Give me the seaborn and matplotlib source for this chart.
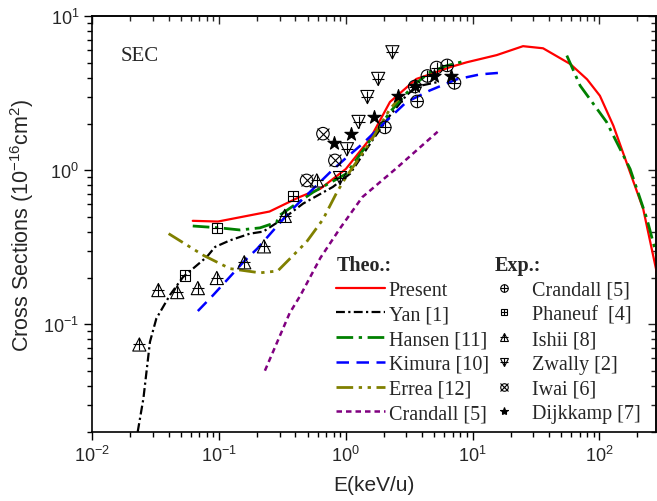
import matplotlib
matplotlib.use("Agg")
import matplotlib.pyplot as plt
import seaborn as sns
from matplotlib.lines import Line2D
from matplotlib.ticker import NullFormatter

# ---- theory curves ----
present_x = [0.062, 0.098, 0.25, 0.43, 0.63, 1.0, 1.55, 2.23, 3.6, 4.5, 6.6, 9.0, 15.5, 25, 36, 59, 80, 101, 129, 222, 290]
present_y = [0.47, 0.465, 0.54, 0.67, 0.76, 1.02, 1.6, 2.78, 3.92, 4.17, 4.67, 5.03, 5.6, 6.4, 6.2, 4.9, 3.9, 3.05, 1.95, 0.56, 0.2]

yan_x = [0.0228, 0.0253, 0.0285, 0.032, 0.041, 0.052, 0.08, 0.093, 0.122, 0.175, 0.223, 0.32, 0.46, 0.79, 1.08, 1.65, 2.23, 3.0, 3.6, 5.3]
yan_y = [0.02, 0.033, 0.077, 0.109, 0.155, 0.203, 0.274, 0.318, 0.351, 0.388, 0.40, 0.485, 0.608, 0.78, 0.95, 1.6, 2.27, 3.06, 3.5, 3.74]

hansen_lo_x = [0.062, 0.101, 0.146, 0.21, 0.284, 0.30, 0.55, 1.01, 1.65, 2.23, 3.4, 4.6, 6.2, 9.0]
hansen_lo_y = [0.435, 0.423, 0.41, 0.423, 0.46, 0.51, 0.72, 0.95, 1.68, 2.39, 3.55, 4.33, 4.77, 5.16]
hansen_hi_x = [55.4, 70.5, 114, 175, 237, 290]
hansen_hi_y = [5.56, 3.55, 2.06, 1.02, 0.486, 0.26]

kimura_x = [0.068, 0.09, 0.155, 0.2, 0.36, 0.5, 0.75, 1.0, 1.37, 2.1, 3.0, 4.6, 7.5, 11.5, 16.5]
kimura_y = [0.122, 0.155, 0.253, 0.31, 0.537, 0.7, 0.97, 1.2, 1.5, 2.1, 2.77, 3.3, 3.9, 4.2, 4.3]

errea_x = [0.04, 0.075, 0.122, 0.21, 0.29, 0.49, 0.66, 0.85, 1.0, 1.56, 2.23, 2.7]
errea_y = [0.388, 0.281, 0.23, 0.216, 0.222, 0.343, 0.48, 0.72, 0.9, 1.53, 2.5, 3.0]

crandall_th_x = [0.23, 0.36, 0.44, 0.63, 0.9, 1.35, 2.5, 5.3]
crandall_th_y = [0.05, 0.118, 0.155, 0.27, 0.42, 0.67, 1.03, 1.78]

# ---- experiments ----
crandall_ex_x = [2.03, 3.5, 3.65, 4.4, 5.2, 6.3, 7.2]
crandall_ex_y = [1.9, 3.5, 2.8, 4.1, 4.65, 4.8, 3.7]

phaneuf_x = [0.054, 0.096, 0.385]
phaneuf_y = [0.208, 0.423, 0.683]

ishii_x = [0.0235, 0.0332, 0.0468, 0.068, 0.096, 0.158, 0.226, 0.33, 0.59]
ishii_y = [0.074, 0.167, 0.162, 0.172, 0.20, 0.253, 0.321, 0.506, 0.86]

zwally_x = [0.9, 1.02, 1.26, 1.48, 1.8, 2.33]
zwally_y = [0.89, 1.37, 2.06, 2.99, 3.92, 5.84]

iwai_x = [0.49, 0.66, 0.82]
iwai_y = [0.86, 1.73, 1.16]

dijk_x = [0.8, 1.09, 1.67, 2.6, 3.5, 5.0, 6.8]
dijk_y = [1.5, 1.73, 2.22, 3.03, 3.55, 4.12, 4.12]

sns.set_theme(style="ticks")
plt.rcParams["font.family"] = ["Liberation Sans", "DejaVu Sans"]
plt.rcParams["mathtext.fontset"] = "custom"
plt.rcParams["mathtext.rm"] = "Liberation Sans"
plt.rcParams["axes.linewidth"] = 1.2

fig = plt.figure(figsize=(6.57, 5.02), dpi=100)
ax = fig.add_axes([0.1405, 0.1375, 0.858, 0.828])
ax.set_xscale("log")
ax.set_yscale("log")

theo = [
    (present_x, present_y, "Present", "#ff0000", "-", None, 1.6),
    (yan_x, yan_y, "Yan [1]", "black", "-", (4, 1.5, 1, 1.5), 1.6),
    (hansen_lo_x, hansen_lo_y, "Hansen [11]", "#008000", "-", (6, 2, 1.2, 2), 2.0),
    (kimura_x, kimura_y, "Kimura [10]", "#0000ff", "-", (5, 3), 1.8),
    (errea_x, errea_y, "Errea [12]", "#808000", "-", (6, 2, 1.2, 2, 1.2, 2), 2.0),
    (crandall_th_x, crandall_th_y, "Crandall [5]", "#800080", "-", (2.2, 1.6), 1.8),
]
theo_handles = []
for xs, ys, lab, col, ls, dash, lw in theo:
    sns.lineplot(x=xs, y=ys, sort=False, estimator=None, color=col, lw=lw, ax=ax)
    ln = ax.get_lines()[-1]
    if dash is not None:
        ln.set_dashes(dash)
    theo_handles.append(ln)
    if lab.startswith("Hansen"):
        sns.lineplot(x=hansen_hi_x, y=hansen_hi_y, sort=False, estimator=None, color=col, lw=lw, ax=ax)
        ax.get_lines()[-1].set_dashes(dash)


def markers(xs, ys, base, inner, ms, fill="none"):
    sns.scatterplot(x=xs, y=ys, marker=base, s=ms ** 2, facecolors=fill,
                    edgecolors="black", linewidths=0.8, ax=ax, zorder=5)
    if inner:
        sns.scatterplot(x=xs, y=ys, marker=inner, s=(ms * 0.95) ** 2, color="black",
                        linewidths=0.8, ax=ax, zorder=6)
    hb = Line2D([], [], ls="", marker=base, ms=ms, mfc=fill, mec="black", mew=0.8)
    if inner:
        hi = Line2D([], [], ls="", marker=inner, ms=ms * 0.95, color="black", mew=0.8)
        return (hb, hi)
    return hb


exp_handles = [
    markers(crandall_ex_x, crandall_ex_y, "o", "+", 9),
    markers(phaneuf_x, phaneuf_y, "s", "+", 7.5),
    markers(ishii_x, ishii_y, "^", "+", 9.5),
    markers(zwally_x, zwally_y, "v", "+", 9.5),
    markers(iwai_x, iwai_y, "o", "x", 9),
    markers(dijk_x, dijk_y, "*", None, 10, fill="black"),
]
exp_labels = ["Crandall [5]", "Phaneuf  [4]", "Ishii [8]", "Zwally [2]", "Iwai [6]", "Dijkkamp [7]"]

ax.set_xlim(0.01, 280)
ax.set_ylim(0.02, 10)

ax.tick_params(which="both", top=False, right=False, direction="out", width=1, labelsize=13, color="black")
ax.tick_params(which="major", length=6)
ax.tick_params(which="minor", length=3.5)
for side in ["top", "right"]:
    sec = ax.secondary_xaxis("top") if side == "top" else ax.secondary_yaxis("right")
    axis = sec.xaxis if side == "top" else sec.yaxis
    sec.tick_params(which="both", direction="in", width=1)
    sec.tick_params(which="major", length=6)
    sec.tick_params(which="minor", length=3.5)
    axis.set_major_formatter(NullFormatter())
    axis.set_minor_formatter(NullFormatter())
for sp in ax.spines.values():
    sp.set_visible(True)
    sp.set_color("black")

ax.set_xlabel("E(keV/u)", fontsize=15, labelpad=7)
ax.set_ylabel("Cross Sections (10$^{-16}$cm$^{2}$)", fontsize=15.5, labelpad=5)
ax.text(0.05, 0.905, "SEC", transform=ax.transAxes, fontsize=15,
        family="Liberation Serif", va="center", ha="left")

serif = {"family": "Liberation Serif", "size": 14.5}
title_fp = {"family": "Liberation Serif", "size": 14.5, "weight": "bold"}
leg1 = ax.legend(theo_handles, [t[2] for t in theo], loc="upper left",
                 bbox_to_anchor=(0.433, 0.426), frameon=False, prop=serif,
                 title="Theo.:", title_fontproperties=title_fp, alignment="left",
                 borderpad=0, borderaxespad=0, handlelength=2.4, handletextpad=0.2,
                 labelspacing=0.28)
ax.add_artist(leg1)
leg2 = ax.legend(exp_handles, exp_labels, loc="upper left",
                 bbox_to_anchor=(0.714, 0.426), frameon=False, prop=serif,
                 title="Exp.:", title_fontproperties=title_fp, alignment="left",
                 borderpad=0, borderaxespad=0, handlelength=0.9, handletextpad=0.95,
                 labelspacing=0.28, markerscale=0.6)

fig.savefig("out.png", dpi=100)
